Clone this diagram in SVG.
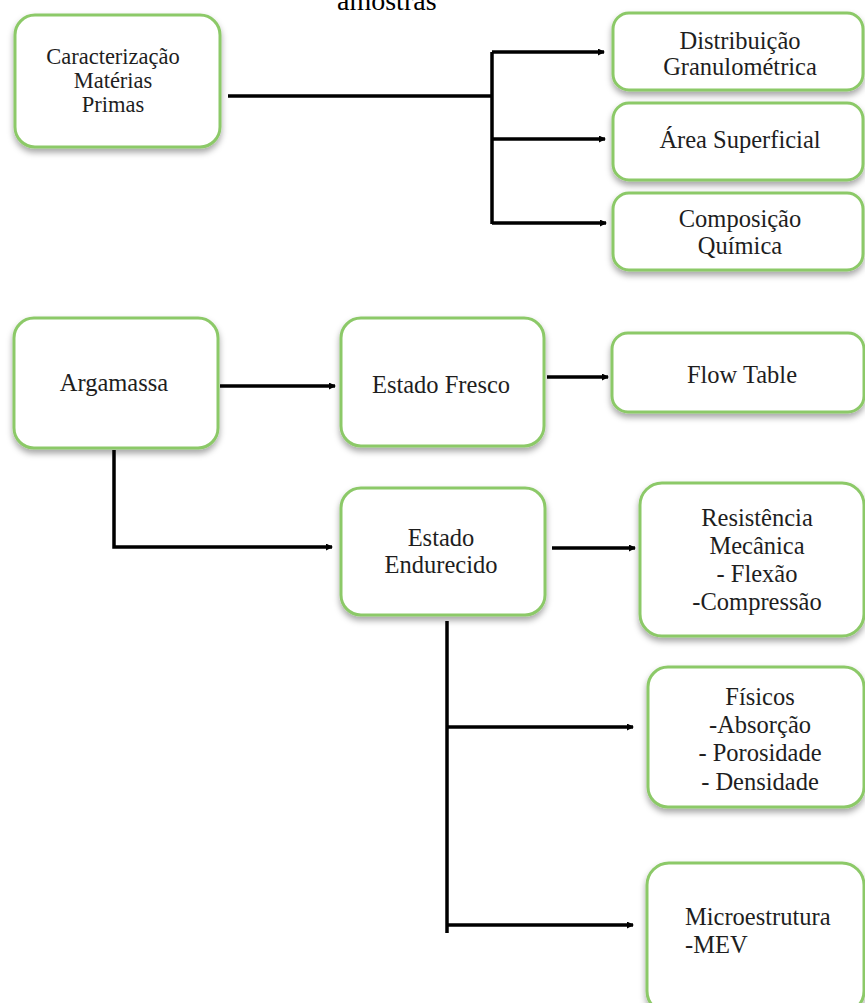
<svg xmlns="http://www.w3.org/2000/svg" width="865" height="1003" viewBox="0 0 865 1003">
<defs>
<filter id="sh" x="-10%" y="-10%" width="120%" height="130%">
<feDropShadow dx="0" dy="4" stdDeviation="3" flood-color="#000" flood-opacity="0.35"/>
</filter>
<marker id="ah" markerUnits="userSpaceOnUse" markerWidth="8" markerHeight="8" refX="6" refY="3.5" orient="auto">
<path d="M0,0 L7,3.5 L0,7 z" fill="#000"/>
</marker>
<style>
.box{fill:#fff;stroke:#8cc968;stroke-width:3;filter:url(#sh)}
.t{font-family:"Liberation Serif","Times New Roman",serif;font-size:24.5px;fill:#1e1e1e;text-anchor:middle}
.s{font-size:22.5px}
.tl{text-anchor:start}
.c{fill:none;stroke:#000;stroke-width:3.5}
.a{marker-end:url(#ah)}
</style>
</defs>
<rect width="865" height="1003" fill="#fff"/>
<text x="337" y="10" style="font-family:'Liberation Serif','Times New Roman',serif;font-size:28px;fill:#000">amostras</text>

<g id="n-caracterizacao">
<rect class="box" x="15" y="15" width="205" height="132" rx="20"/>
<text class="t s" x="113" y="64">Caracterização</text>
<text class="t s" x="113" y="88">Matérias</text>
<text class="t s" x="113" y="112">Primas</text>
</g>
<g id="n-distribuicao">
<rect class="box" x="613" y="13" width="250" height="77" rx="16"/>
<text class="t" x="740" y="49">Distribuição</text>
<text class="t" x="740" y="75">Granulométrica</text>
</g>
<g id="n-area">
<rect class="box" x="613" y="103" width="250" height="77" rx="16"/>
<text class="t" x="740" y="148">Área Superficial</text>
</g>
<g id="n-composicao">
<rect class="box" x="613" y="193" width="250" height="77" rx="16"/>
<text class="t" x="740" y="227">Composição</text>
<text class="t" x="740" y="254">Química</text>
</g>
<g id="n-argamassa">
<rect class="box" x="14" y="318" width="204" height="130" rx="20"/>
<text class="t" x="114" y="391">Argamassa</text>
</g>
<g id="n-fresco">
<rect class="box" x="341" y="318" width="203" height="128" rx="20"/>
<text class="t" x="441" y="393">Estado Fresco</text>
</g>
<g id="n-flow">
<rect class="box" x="612" y="333" width="252" height="79" rx="16"/>
<text class="t" x="742" y="383">Flow Table</text>
</g>
<g id="n-endurecido">
<rect class="box" x="341" y="488" width="204" height="127" rx="20"/>
<text class="t" x="441" y="546">Estado</text>
<text class="t" x="441" y="573">Endurecido</text>
</g>
<g id="n-resistencia">
<rect class="box" x="640" y="483" width="224" height="153" rx="22"/>
<text class="t" x="757" y="526">Resistência</text>
<text class="t" x="757" y="554">Mecânica</text>
<text class="t" x="757" y="582">- Flexão</text>
<text class="t" x="757" y="610">-Compressão</text>
</g>
<g id="n-fisicos">
<rect class="box" x="648" y="667" width="216" height="140" rx="20"/>
<text class="t" x="760" y="705">Físicos</text>
<text class="t" x="760" y="733">-Absorção</text>
<text class="t" x="760" y="761">- Porosidade</text>
<text class="t" x="760" y="790">- Densidade</text>
</g>
<g id="n-micro">
<rect class="box" x="647" y="863" width="217" height="150" rx="22"/>
<text class="t tl" x="685" y="925">Microestrutura</text>
<text class="t tl" x="685" y="953">-MEV</text>
</g>

<g id="connectors">
<path class="c" d="M228 96 H492"/>
<path class="c" d="M492 52 V224"/>
<path class="c a" d="M492 52 H604"/>
<path class="c a" d="M492 139 H605"/>
<path class="c a" d="M492 223 H606"/>
<path class="c a" d="M220 386 H335"/>
<path class="c a" d="M547 377 H608"/>
<path class="c a" d="M114 450 V547 H332"/>
<path class="c a" d="M552 548 H635"/>
<path class="c" d="M447 621 V933"/>
<path class="c a" d="M447 727 H633"/>
<path class="c a" d="M447 925 H633"/>
</g>
</svg>
